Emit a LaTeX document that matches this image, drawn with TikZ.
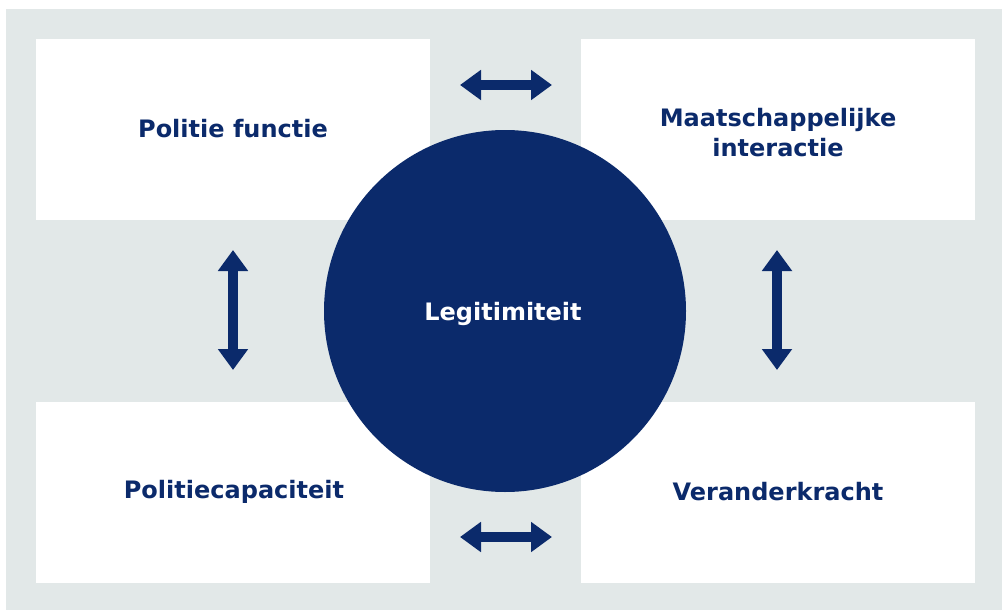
\documentclass[tikz,border=0pt]{standalone}
\usepackage{fontspec}
\setmainfont{DejaVu Sans}
\usetikzlibrary{arrows.meta}
\definecolor{navy}{HTML}{0B2A6B}
\definecolor{panel}{HTML}{E2E8E8}
\tikzset{
  box/.style={fill=white, draw=none, minimum width=394pt, minimum height=181pt, inner sep=0pt, anchor=north west},
  lbl/.style={text=navy, font=\bfseries\fontsize{24}{30}\selectfont, align=center},
  dbl/.style={draw=navy, line width=10pt, {Triangle[length=21pt,width=29pt]}-{Triangle[length=21pt,width=29pt]}, shorten <=0pt, shorten >=0pt}
}
\begin{document}
\begin{tikzpicture}[x=1pt,y=-1pt]
\useasboundingbox (0,0) rectangle (1002,610);
\fill[white] (0,0) rectangle (1002,610);
\fill[panel] (6,9) rectangle (1002,610);
\node[box] (tl) at (36,39) {};
\node[box] (tr) at (581,39) {};
\node[box] (bl) at (36,402) {};
\node[box] (br) at (581,402) {};
\node[circle, fill=navy, minimum size=362pt, inner sep=0pt] (c) at (505,311) {};
\node[lbl] (tlt) at (233,129) {Politie functie};
\node[lbl] (trt) at (778,133) {Maatschappelijke\\interactie};
\node[lbl] (blt) at (234,492) {Politiecapaciteit};
\node[lbl] (brt) at (778,492) {Veranderkracht};
\node[lbl, text=white] (ct) at (503,314) {Legitimiteit};
\coordinate (a1) at (460,85);
\coordinate (a2) at (552,85);
\coordinate (b1) at (460,537);
\coordinate (b2) at (552,537);
\coordinate (l1) at (233,250);
\coordinate (l2) at (233,370);
\coordinate (r1) at (777,250);
\coordinate (r2) at (777,370);
\draw[dbl] (a1) -- (a2);
\draw[dbl] (b1) -- (b2);
\draw[dbl] (l1) -- (l2);
\draw[dbl] (r1) -- (r2);
\end{tikzpicture}
\end{document}
